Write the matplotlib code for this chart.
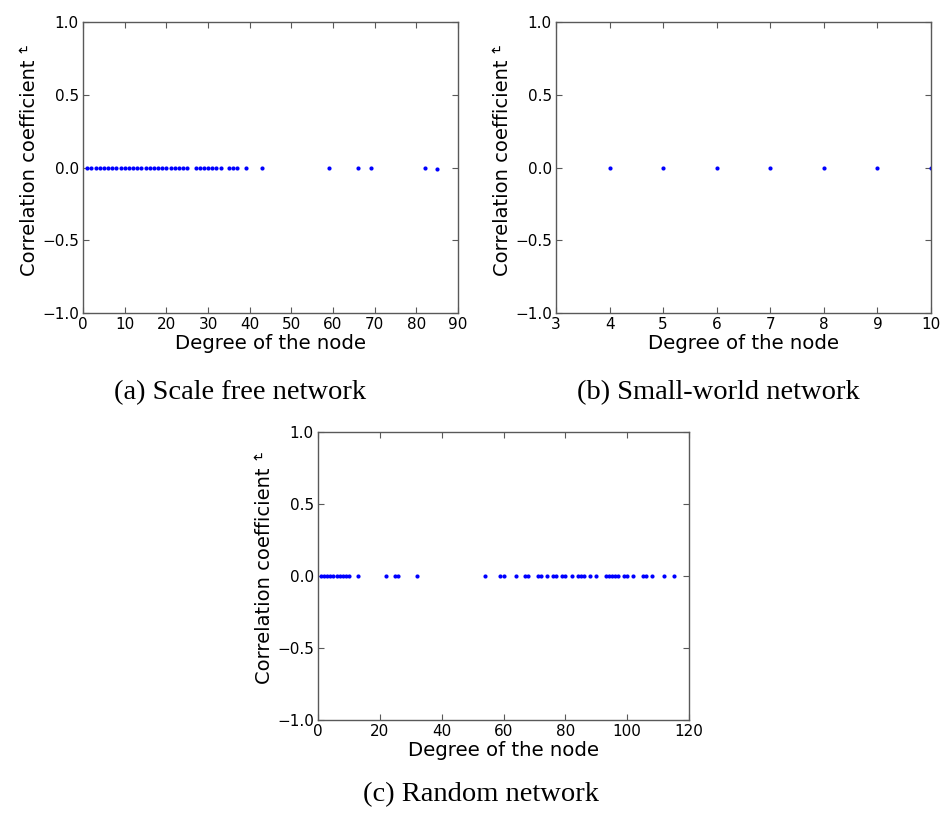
import matplotlib
matplotlib.use("Agg")
import matplotlib.pyplot as plt

# Degree of each node and the corresponding correlation coefficient
sf_degree = list(range(1, 26)) + [27, 28, 29, 30, 31, 32, 33, 35, 36, 37, 39, 43,
                                  59, 66, 69, 82, 85]
sf_corr = ([0.0] * 10 + [-0.001] * 10 + [-0.002] * 5
           + [-0.003] * 7 + [-0.004] * 5 + [-0.005, -0.005, -0.006, -0.006, -0.008])

sw_degree = [4, 5, 6, 7, 8, 9, 10]
sw_corr = [0.0, 0.0, 0.0, 0.0, 0.0, 0.0, 0.0]

rn_degree = list(range(1, 11)) + [13, 22, 25, 26, 32, 54, 59, 60, 64, 67, 68, 71, 72,
                                  74, 76, 77, 79, 80, 82, 84, 85, 86, 88, 90, 93, 94,
                                  95, 96, 97, 99, 100, 102, 105, 106, 108, 112, 115]
rn_corr = [0.0] * len(rn_degree)

sf_xticks = list(range(0, 91, 10))
sw_xticks = list(range(3, 11))
rn_xticks = list(range(0, 121, 20))
yticks = [-1.0, -0.5, 0.0, 0.5, 1.0]

captions = ["(a) Scale free network", "(b) Small-world network", "(c) Random network"]

W, H = 944, 816
fig = plt.figure(figsize=(W / 100, H / 100), dpi=100)
fig.patch.set_facecolor("white")


def px_axes(x0, y0, x1, y1):
    return fig.add_axes([x0 / W, 1 - y1 / H, (x1 - x0) / W, (y1 - y0) / H])


def style(ax, xlim, xticks):
    ax.set_xlim(*xlim)
    ax.set_ylim(-1.0, 1.0)
    ax.set_xticks(xticks)
    ax.set_yticks(yticks)
    ax.set_yticklabels([f"{v:.1f}".replace("-", "\u2212") for v in yticks])
    ax.tick_params(direction="in", top=True, right=True, length=4, width=0.8,
                   labelsize=11, color="0.35", pad=3)
    for s in ax.spines.values():
        s.set_color("0.35")
        s.set_linewidth(1.0)
    ax.set_xlabel("Degree of the node", fontsize=14.2, labelpad=1)
    ax.set_ylabel("Correlation coefficient", fontsize=14, labelpad=2)


# axes box in pixels, data, limits, ticks, caption centre, marker y
panels = [
    ((83, 22, 458, 313), sf_degree, sf_corr, (0, 90), sf_xticks, (240, 393), 51),
    ((556, 22, 931, 313), sw_degree, sw_corr, (3, 10), sw_xticks, (718, 393), 51),
    ((318, 432, 689, 720), rn_degree, rn_corr, (0, 120), rn_xticks, (481, 795), 458),
]

for i, (box, xs, ys, xlim, xt, cap, my) in enumerate(panels):
    ax = px_axes(*box)
    ax.plot(xs, ys, linestyle="none", marker="o", markersize=3.0,
            markeredgewidth=0, color="#0000ff")
    style(ax, xlim, xt)
    fig.text(cap[0] / W, 1 - cap[1] / H, captions[i], ha="center", va="center",
             fontsize=20.5, family="Liberation Serif")
    fig.text((box[0] - 60) / W, 1 - my / H, "\u21b5", ha="center",
             va="center", fontsize=10, family="DejaVu Sans")

fig.savefig("out.png", dpi=100, facecolor="white")
